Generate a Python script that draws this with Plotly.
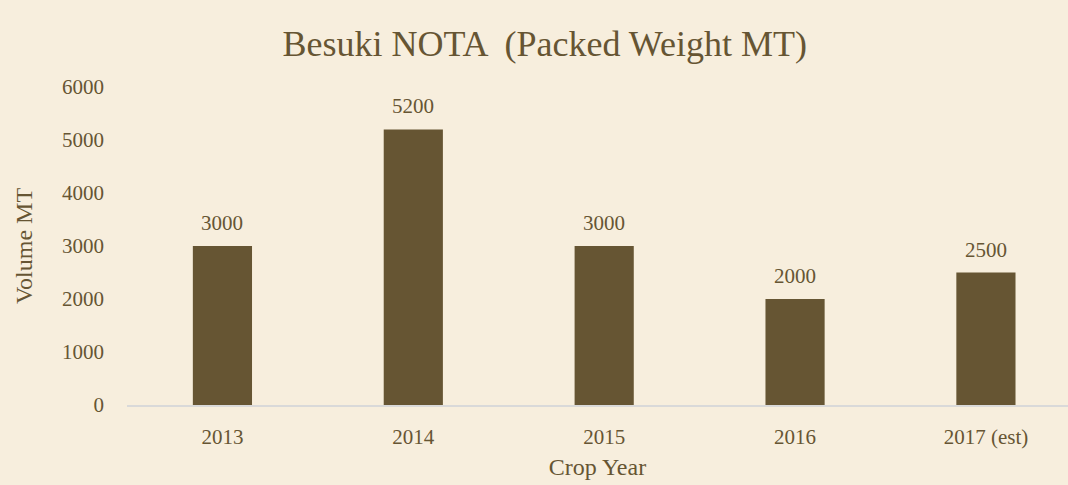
import plotly.graph_objects as go

categories = ["2013", "2014", "2015", "2016", "2017 (est)"]
values = [3000, 5200, 3000, 2000, 2500]
y_ticks = [0, 1000, 2000, 3000, 4000, 5000, 6000]

TXT = "#665533"
BG = "#F7EEDD"
FONT = "Georgia, 'Liberation Serif', 'DejaVu Serif', serif"

xs = list(range(len(categories)))
fig = go.Figure(go.Bar(
    x=xs, y=values,
    marker=dict(color="#665533", line=dict(width=0)),
    hoverinfo="skip",
))

for xi, v in zip(xs, values):
    fig.add_annotation(x=xi, y=v, text=str(v), showarrow=False,
                       yanchor="bottom", yshift=9,
                       font=dict(size=21, color=TXT, family=FONT))

fig.update_layout(
    width=1068, height=485,
    paper_bgcolor=BG, plot_bgcolor=BG,
    margin=dict(l=127, r=0, t=87, b=80),
    bargap=0.69,
    font=dict(family=FONT, color=TXT, size=20),
    title=dict(text="Besuki NOTA  (Packed Weight MT)", x=0.51, xanchor="center",
               y=0.91, yanchor="middle", font=dict(size=36, color=TXT, family=FONT)),
    showlegend=False,
)
fig.update_xaxes(
    tickmode="array", tickvals=xs, ticktext=categories,
    range=[-0.5, 4.43], showgrid=False, showline=True, linecolor="#D9D9D9", linewidth=2,
    ticks="", tickfont=dict(size=21, color=TXT), zeroline=False, ticklabelstandoff=12,
    title=dict(text="Crop Year", font=dict(size=24, color=TXT), standoff=10),
)
fig.update_yaxes(
    range=[0, 6000], tickvals=y_ticks, showgrid=False, zeroline=False, showline=False,
    tickfont=dict(size=21, color=TXT), ticks="", ticklabelstandoff=22,
    title=dict(text="Volume MT", font=dict(size=24, color=TXT), standoff=22),
)
fig.write_html(
    "out.html",
    config={"displayModeBar": False},
    post_script="document.body.style.margin='0';document.body.style.background='#F7EEDD';",
)
